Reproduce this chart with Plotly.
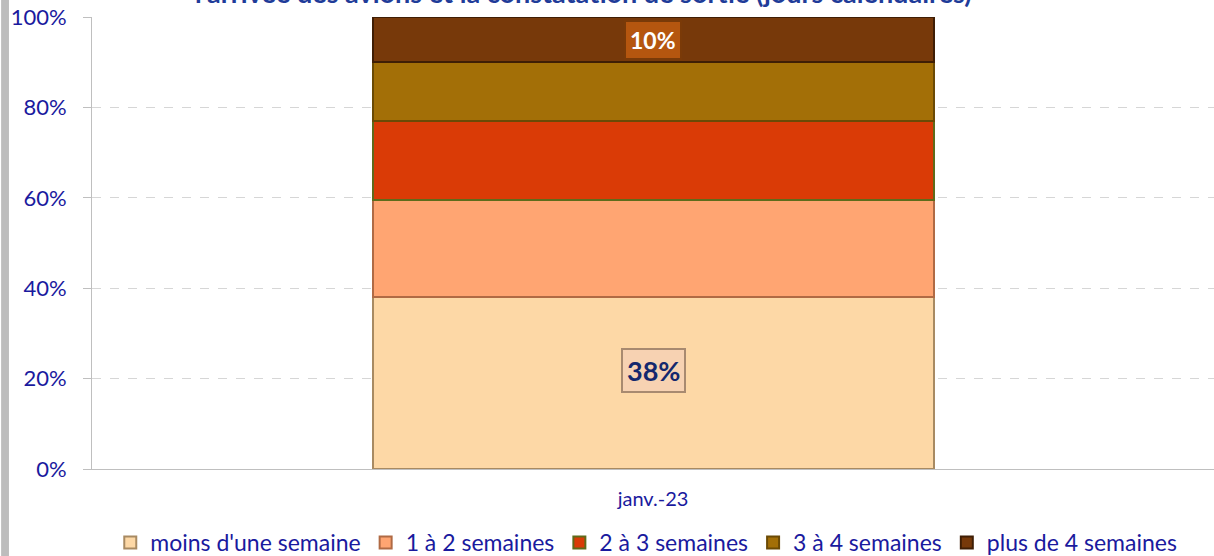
import plotly.graph_objects as go

categories = ["janv.-23"]
series_names = ["moins d'une semaine", "1 à 2 semaines", "2 à 3 semaines", "3 à 4 semaines", "plus de 4 semaines"]
series_values = [[38], [21.5], [17.5], [13], [10]]
label_text = ["38%", "", "", "", "10%"]
tick_vals = [0, 20, 40, 60, 80, 100]
tick_text = ["0%", "20%", "40%", "60%", "80%", "100%"]

colors = ["#FDD8A6", "#FFA572", "#DA3B06", "#A36F07", "#77390A"]
edge = ["#A88A62", "#B06A44", "#5F6B1A", "#6B4A05", "#3F1E05"]

fig = go.Figure()
for name, vals, c, e in zip(series_names, series_values, colors, edge):
    fig.add_trace(go.Bar(x=categories, y=vals, name=name,
                         marker=dict(color=c, line=dict(color=e, width=2))))

# data labels
cum = 0
for i, vals in enumerate(series_values):
    v = vals[0]
    if label_text[i]:
        if i == 0:
            fig.add_annotation(x=categories[0], y=cum + v / 2, yshift=13, text="<b>" + label_text[i] + "</b>",
                               showarrow=False, font=dict(size=27, color="#14286E", family="Lato"),
                               bgcolor="#F7D2B2", bordercolor="#A88A70", borderwidth=2, borderpad=4)
        else:
            fig.add_annotation(x=categories[0], y=cum + v / 2, text="<b>" + label_text[i] + "</b>",
                               showarrow=False, font=dict(size=23, color="white", family="Lato"),
                               bgcolor="#B5560F", bordercolor="#7A3A08", borderwidth=2, borderpad=4)
    cum += v

fig.add_annotation(xref="paper", yref="paper", x=0.438, y=1, yanchor="bottom", yshift=6,
                   text="<b>l'arrivée des avions et la constatation de sortie (jours calendaires)</b>",
                   showarrow=False, font=dict(size=27, color="#1F3C99", family="Lato"))

fig.add_shape(type="rect", xref="paper", yref="paper", x0=-0.081, x1=-0.074, y0=-0.2, y1=1.05,
              fillcolor="#BDBDBD", line=dict(width=0), layer="below")

fig.update_layout(
    barmode="stack",
    bargap=0.5,
    width=1214, height=556,
    margin=dict(l=92, r=0, t=17, b=87, autoexpand=False),
    plot_bgcolor="white", paper_bgcolor="white",
    font=dict(family="Lato", color="#1A1A9E"),
    showlegend=True,
    legend=dict(orientation="h", x=0.494, xanchor="center", y=-0.115, yanchor="top",
                font=dict(size=23, color="#1A1A9E"), traceorder="normal",
                itemwidth=30, tracegroupgap=0),
    yaxis=dict(range=[0, 100], tickvals=tick_vals, ticktext=tick_text,
               tickfont=dict(size=22, color="#1A1A9E"),
               showgrid=True, gridcolor="#D6D6D6", griddash="dash",
               showline=True, linecolor="#BFBFBF", ticks="outside", ticklen=8, tickcolor="#BFBFBF",
               ticklabelstandoff=12, zeroline=False, automargin=False),
    xaxis=dict(tickfont=dict(size=20, color="#1A1A9E"), showline=True, linecolor="#BFBFBF",
               ticks="", ticklabelstandoff=12, automargin=False),
)

fig.write_html("out.html", config={"displayModeBar": False},
               post_script="document.body.style.margin='0';document.body.style.overflow='hidden';")
